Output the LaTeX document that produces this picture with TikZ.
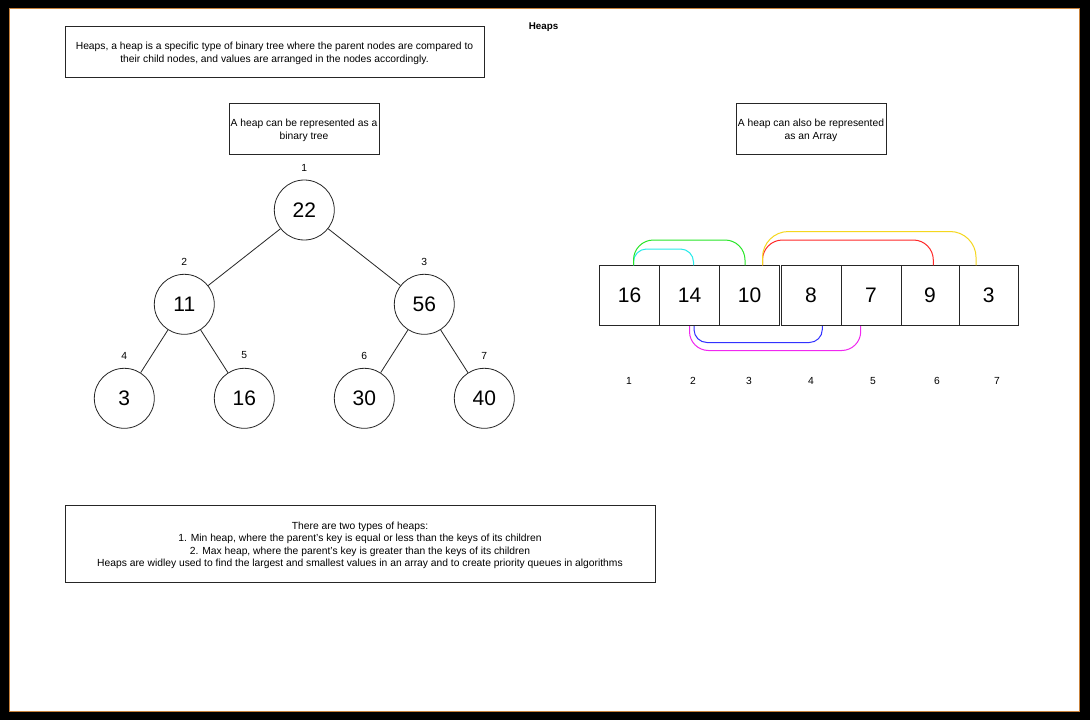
\documentclass[tikz,border=0pt]{standalone}
\usepackage{fontspec}
\setmainfont{Liberation Sans}
\usetikzlibrary{calc}
\definecolor{frameedge}{RGB}{200,130,60}
\definecolor{arccyan}{RGB}{40,235,235}
\definecolor{arcgreen}{RGB}{40,230,40}
\definecolor{arcred}{RGB}{255,40,40}
\definecolor{arcyellow}{RGB}{245,215,30}
\definecolor{arcblue}{RGB}{50,50,255}
\definecolor{arcmagenta}{RGB}{240,40,240}
% centred lines, set a little lower than the geometric centre of their box
\newcommand{\shiftedlines}[1]{\raisebox{-2pt}[\height][\depth]{\begin{tabular}{@{}c@{}}#1\end{tabular}}}
\tikzset{
  txt/.style={font=\fontsize{10.3}{12.5}\selectfont, inner sep=0pt, align=center},
  textbox/.style={draw=black!85, line width=0.8pt, inner sep=0pt,
    font=\fontsize{10.3}{12.6}\selectfont},
  heapnode/.style={draw=black!85, line width=0.8pt, circle, minimum size=60pt, inner sep=0pt,
    font=\fontsize{21}{24}\selectfont},
  cell/.style={draw=black!85, line width=0.8pt, minimum height=60pt, inner sep=0pt,
    font=\fontsize{21}{24}\selectfont},
  treeedge/.style={draw=black!85, line width=0.8pt},
  arc/.style={line width=1pt},
}
\begin{document}
\begin{tikzpicture}[x=1pt,y=-1pt]
  % page frame
  \fill[black] (0,0) rectangle (1090,720);
  \fill[white] (9,8) rectangle (1079,711);
  \draw[frameedge, line width=0.6pt] (9,8) rectangle (1079,711);
  \useasboundingbox (0,0) rectangle (1090,720);

  % title and description boxes
  \node[txt, font=\bfseries\fontsize{9.8}{12}\selectfont] (title) at (543.5,27.5) {Heaps};
  \node[textbox, minimum width=419pt, minimum height=51pt] (intro) at (274.5,51.5)
    {\shiftedlines{Heaps, a heap is a specific type of binary tree where the parent nodes are compared to\\
     their child nodes, and values are arranged in the nodes accordingly.}};
  \node[textbox, minimum width=150pt, minimum height=51pt] (treenote) at (304,128.5)
    {\shiftedlines{A heap can be represented as a\\ binary tree}};
  \node[textbox, minimum width=150pt, minimum height=51pt] (arraynote) at (811,128.5)
    {\shiftedlines{A heap can also be represented\\ as an Array}};
  \node[textbox, minimum width=590pt, minimum height=77pt] (types) at (360,543.5)
    {\shiftedlines{There are two types of heaps:\\
     1. Min heap, where the parent's key is equal or less than the keys of its children\\
     2. Max heap, where the parent's key is greater than the keys of its children\\
     Heaps are widley used to find the largest and smallest values in an array and to create priority queues in algorithms}};

  % binary tree
  \node[heapnode] (n1) at (304.3,210) {22};
  \node[heapnode] (n2) at (184.3,304.3) {11};
  \node[heapnode] (n3) at (424.3,304.3) {56};
  \node[heapnode] (n4) at (124.3,398.3) {3};
  \node[heapnode] (n5) at (244.3,398.3) {16};
  \node[heapnode] (n6) at (364.3,398.3) {30};
  \node[heapnode] (n7) at (484.3,398.3) {40};
  \draw[treeedge] (n1) -- (n2);
  \draw[treeedge] (n1) -- (n3);
  \draw[treeedge] (n2) -- (n4);
  \draw[treeedge] (n2) -- (n5);
  \draw[treeedge] (n3) -- (n6);
  \draw[treeedge] (n3) -- (n7);

  % tree position labels
  \node[txt] (t1) at (304.3,167.5) {1};
  \node[txt] (t2) at (184.3,261.5) {2};
  \node[txt] (t3) at (424.3,261.5) {3};
  \node[txt] (t4) at (124.3,355.5) {4};
  \node[txt] (t5) at (244.3,355.5) {5};
  \node[txt] (t6) at (364.3,355.5) {6};
  \node[txt] (t7) at (484.3,355.5) {7};

  % array cells
  \node[cell, minimum width=60pt] (c1) at (629.5,295.7) {16};
  \node[cell, minimum width=60pt] (c2) at (689.5,295.7) {14};
  \node[cell, minimum width=60pt] (c3) at (749.5,295.7) {10};
  \node[cell, minimum width=60pt] (c4) at (811,295.7) {8};
  \node[cell, minimum width=60pt] (c5) at (871,295.7) {7};
  \node[cell, minimum width=58pt] (c6) at (930,295.7) {9};
  \node[cell, minimum width=59.5pt] (c7) at (988.75,295.7) {3};

  % array index labels
  \node[txt] (i1) at (629,381) {1};
  \node[txt] (i2) at (693,381) {2};
  \node[txt] (i3) at (749,381) {3};
  \node[txt] (i4) at (811,381) {4};
  \node[txt] (i5) at (873,381) {5};
  \node[txt] (i6) at (937,381) {6};
  \node[txt] (i7) at (997,381) {7};

  % parent-child links above the array
  \draw[arc, arccyan, rounded corners=13pt] ([xshift=4pt]c1.north) |- (663,249) -| ([xshift=4pt]c2.north);
  \draw[arc, arcgreen, rounded corners=20pt] ([xshift=4pt]c1.north) |- (690,240) -| ([xshift=-4.5pt]c3.north);
  \draw[arc, arcred, rounded corners=20pt] ([xshift=13pt]c3.north) |- (850,240) -| ([xshift=3.3pt]c6.north);
  \draw[arc, arcyellow, rounded corners=26pt] ([xshift=13pt]c3.north) |- (870,231.5) -| ([xshift=-12.7pt]c7.north);

  % parent-child links below the array
  \draw[arc, arcblue, rounded corners=13pt] ([xshift=4.5pt]c2.south) |- (760,342.5) -| ([xshift=11.3pt]c4.south);
  \draw[arc, arcmagenta, rounded corners=19pt] (c2.south) |- (775,350.5) -| ([xshift=-10.3pt]c5.south);
\end{tikzpicture}
\end{document}
